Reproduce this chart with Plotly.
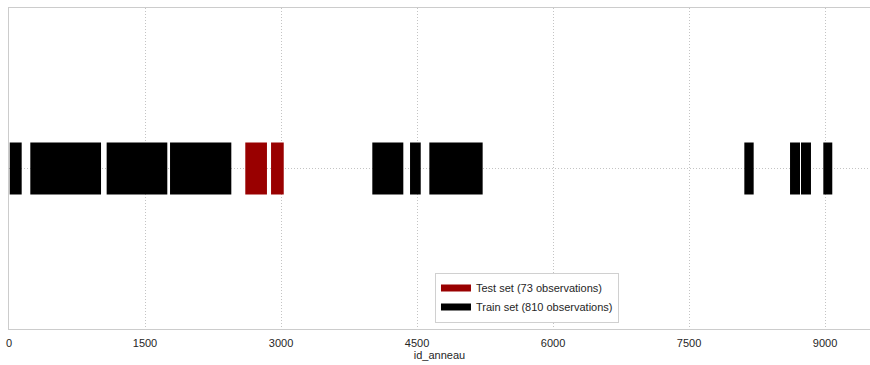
import plotly.graph_objects as go

# Blocks of id_anneau values (start, end)
train_starts = [8, 235, 1077, 1776, 4007, 4423, 4636, 8110, 8614, 8735, 8981]
train_ends = [140, 1015, 1746, 2452, 4349, 4541, 5224, 8213, 8724, 8845, 9080]
test_starts = [2606, 2890]
test_ends = [2845, 3030]
x_ticks = [0, 1500, 3000, 4500, 6000, 7500, 9000]
test_label = "Test set (73 observations)"
train_label = "Train set (810 observations)"
test_color = "#990000"
train_color = "#000000"

fig = go.Figure()
for starts, ends, color, label in [
    (test_starts, test_ends, test_color, test_label),
    (train_starts, train_ends, train_color, train_label),
]:
    fig.add_trace(go.Bar(
        name=label,
        orientation="h",
        base=starts,
        x=[e - s for s, e in zip(starts, ends)],
        y=[0] * len(starts),
        width=0.324,
        marker=dict(color=color, line=dict(width=0)),
        showlegend=False,
    ))
# legend entries drawn as wide patches
for color, label in [(test_color, test_label), (train_color, train_label)]:
    fig.add_trace(go.Scatter(
        name=label, x=[None], y=[None], mode="lines",
        line=dict(color=color, width=7),
    ))

grid = "#c4c4c4"
fig.update_layout(
    template="none",
    width=870, height=365,
    margin=dict(l=9, r=0, t=8, b=36),
    plot_bgcolor="white", paper_bgcolor="white",
    barmode="overlay",
    font=dict(family="Liberation Sans, Arial, sans-serif", size=11, color="#262626"),
    legend=dict(
        x=0.6016, y=0.02, xanchor="center", yanchor="bottom",
        bordercolor="#d0d0d0", borderwidth=1, bgcolor="white",
        font=dict(size=11, color="#262626"), traceorder="normal",
        itemwidth=30,
    ),
    showlegend=True,
)
fig.update_xaxes(
    range=[0, 9496], tickvals=x_ticks, ticktext=[str(t) for t in x_ticks],
    automargin=False, ticklabeloverflow="allow",
    showgrid=True, gridcolor=grid, griddash="1px,2px", gridwidth=1,
    showline=True, linecolor="#cccccc", linewidth=1, mirror=True,
    zeroline=False, ticks="", ticklabelstandoff=4,
    tickfont=dict(size=11, color="#262626"),
    title=dict(text="id_anneau", standoff=2, font=dict(size=11, color="#262626")),
)
fig.update_yaxes(
    range=[-1, 1], tickvals=[0], showticklabels=False,
    automargin=False,
    showgrid=True, gridcolor=grid, griddash="1px,2px", gridwidth=1,
    showline=True, linecolor="#cccccc", linewidth=1, mirror=False,
    zeroline=False, ticks="",
)
fig.write_html(
    "out.html",
    config={"displayModeBar": False},
    post_script="document.body.style.margin='0';document.body.style.overflow='hidden';",
)
